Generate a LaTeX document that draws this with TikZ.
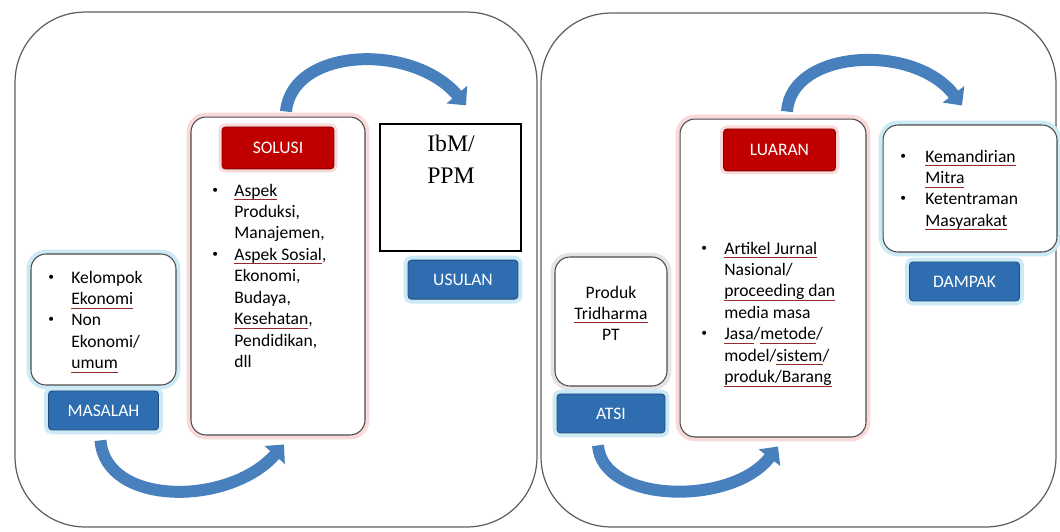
\documentclass[tikz,border=0pt]{standalone}
\usepackage{fontspec}
\setmainfont{Carlito}
\newfontfamily\ibmfont{Liberation Serif}
\usetikzlibrary{arrows.meta}
\usetikzlibrary{positioning}

\definecolor{btnblue}{RGB}{46,110,176}
\definecolor{btnred}{RGB}{192,0,0}
\definecolor{arrowblue}{RGB}{72,128,190}
\definecolor{panelgray}{RGB}{95,95,95}
\definecolor{glowcyan}{RGB}{204,234,245}
\definecolor{glowpink}{RGB}{248,218,218}
\definecolor{glowgray}{RGB}{228,228,228}
\definecolor{spellred}{RGB}{150,40,40}

\newsavebox{\splbox}
\newcommand{\spl}[1]{\sbox{\splbox}{#1}\rlap{\textcolor{spellred}{\rule[-0.45ex]{\wd\splbox}{0.4pt}}}\usebox{\splbox}}
\newcommand{\bul}{\raisebox{0.35ex}{\fontsize{6.5}{7}\selectfont\textbullet}}

\begin{document}
\begin{tikzpicture}[x=0.02cm, y=-0.02cm,
    panel/.style={draw=panelgray, line width=0.7pt, rounded corners=1.4cm, fill=white},
    itembox/.style={draw=black!70, line width=0.6pt, rounded corners=0.3cm, fill=white,
      preaction={draw=#1, line width=5pt}},
    bluebtn/.style={fill=btnblue, draw=btnblue!70!black, line width=0.5pt, rounded corners=2pt,
      text=white, font=\fontsize{10}{12}\selectfont, minimum width=2.2cm, minimum height=0.78cm,
      preaction={draw=glowcyan, line width=5pt}},
    redbtn/.style={fill=btnred, draw=btnred!70!black, line width=0.5pt, rounded corners=2pt,
      text=white, font=\fontsize{10}{12}\selectfont, minimum width=2.24cm, minimum height=0.84cm,
      preaction={draw=glowpink, line width=4pt}},
    listtext/.style={anchor=base west, inner sep=0pt, align=left, font=\fontsize{10}{12.2}\selectfont},
    flowarrow/.style={draw=arrowblue, line width=6.8pt, -{Triangle[width=15pt,length=8pt]}}]

    \useasboundingbox (0,0) rectangle (1060,531);

    % panels
    \node[panel, minimum width=10.44cm, minimum height=10.3cm] (leftpanel) at (276,269.5) {};
    \node[panel, minimum width=10.3cm, minimum height=10.28cm] (rightpanel) at (798.5,270) {};

    % left panel
    \node[itembox=glowcyan, minimum width=2.9cm, minimum height=2.62cm] (masalahbox) at (103.5,319.5) {};
    \node[bluebtn, below=0.1cm of masalahbox] (masalahbtn) {MASALAH};
    \node[listtext] (masalahtext) at (48,283) {\begin{tabular}[t]{@{}p{0.46cm}@{}l@{}}
      \bul & Kelompok\\ & \spl{Ekonomi}\\ \bul & Non\\ & Ekonomi/\\ & \spl{umum}
    \end{tabular}};

    \node[itembox=glowpink, minimum width=3.48cm, minimum height=6.36cm] (solusibox) at (278,276) {};
    \node[redbtn, anchor=north] (solusibtn) at ([yshift=-0.2cm]solusibox.north) {SOLUSI};
    \node[listtext] (solusitext) at (212,196) {\begin{tabular}[t]{@{}p{0.44cm}@{}l@{}}
      \bul & \spl{Aspek}\\ & Produksi,\\ & Manajemen,\\ \bul & \spl{Aspek Sosial},\\
      & Ekonomi,\\ & Budaya,\\ & \spl{Kesehatan},\\ & Pendidikan,\\ & dll
    \end{tabular}};

    \node[draw=black, line width=0.8pt, fill=white, minimum width=2.82cm, minimum height=2.54cm] (ibmbox) at (450.5,187.5) {};
    \node[anchor=north, inner sep=0pt, align=center, font=\ibmfont\fontsize{13.5}{18}\selectfont] (ibmtext) at (451,135) {IbM/\\PPM};
    \node[bluebtn, below=0.16cm of ibmbox, xshift=0.25cm] (usulanbtn) {USULAN};

    % right panel
    \node[itembox=glowgray, minimum width=2.24cm, minimum height=2.58cm] (produkbox) at (611,321.5) {};
    \node[bluebtn, below=0.14cm of produkbox, minimum width=2.16cm] (atsibtn) {ATSI};
    \node[anchor=north, inner sep=0pt, align=center, font=\fontsize{10}{11.8}\selectfont] (produktext) at (611,286) {Produk\\ \spl{Tridharma}\\ PT};

    \node[itembox=glowpink, minimum width=3.72cm, minimum height=6.36cm] (luaranbox) at (773,278) {};
    \node[redbtn, anchor=north, xshift=0.13cm] (luaranbtn) at ([yshift=-0.2cm]luaranbox.north) {LUARAN};
    \node[listtext] (luarantext) at (701,254) {\begin{tabular}[t]{@{}p{0.46cm}@{}l@{}}
      \bul & \spl{Artikel Jurnal}\\ & Nasional/\\ & \spl{proceeding dan}\\ & media masa\\
      \bul & \spl{Jasa}/\spl{metode}/\\ & model/\spl{sistem}/\\ & \spl{produk/Barang}
    \end{tabular}};

    \node[itembox=glowcyan, minimum width=3.48cm, minimum height=2.54cm] (dampakbox) at (970,188.5) {};
    \node[bluebtn, below=0.18cm of dampakbox, xshift=-0.11cm] (dampakbtn) {DAMPAK};
    \node[listtext] (dampaktext) at (900,162) {\begin{tabular}[t]{@{}p{0.5cm}@{}l@{}}
      \bul & \spl{Kemandirian}\\ & \spl{Mitra}\\ \bul & Ketentraman\\ & \spl{Masyarakat}
    \end{tabular}};

    % flow arrows
    \draw[flowarrow] ([xshift=-0.06cm,yshift=-0.2cm]masalahbtn.south) .. controls +(5,66) and +(-55,62) .. ([xshift=0.12cm,yshift=-0.18cm]solusibox.south); %% masalah to solusi
    \draw[flowarrow] ([xshift=0.16cm,yshift=0.1cm]solusibox.north) .. controls +(6,-64) and +(-54,-63) .. ([xshift=0.31cm,yshift=0.36cm]ibmbox.north); %% solusi to usulan
    \draw[flowarrow] ([xshift=-0.26cm,yshift=-0.24cm]atsibtn.south) .. controls +(4,58) and +(-46,60) .. ([xshift=0.1cm,yshift=-0.18cm]luaranbox.south); %% atsi to luaran
    \draw[flowarrow] ([xshift=0.28cm,yshift=0.14cm]luaranbox.north) .. controls +(4,-62) and +(-48,-63) .. ([xshift=-0.16cm,yshift=0.38cm]dampakbox.north); %% luaran to dampak
\end{tikzpicture}
\end{document}
